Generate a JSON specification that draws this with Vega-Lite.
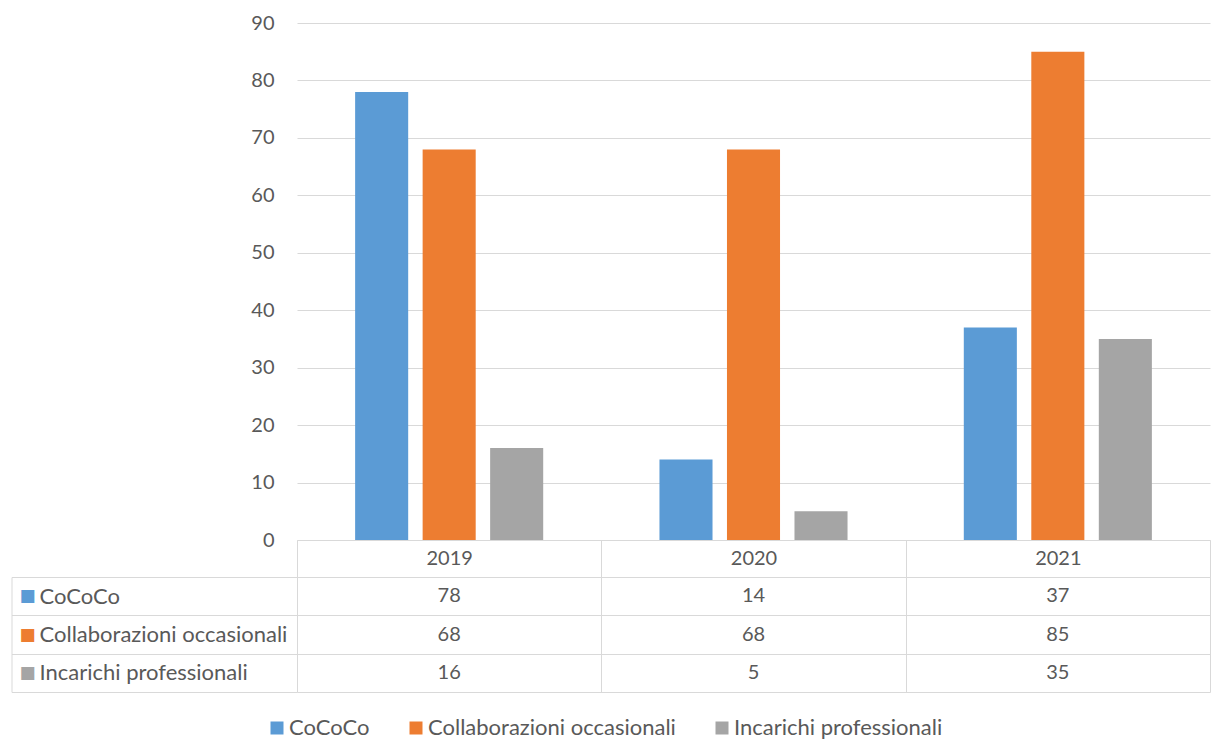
{
  "$schema": "https://vega.github.io/schema/vega-lite/v6.json",
  "padding": {"left": 11, "top": 13, "right": 0, "bottom": 0},
  "background": "white",
  "config": {
    "font": "Lato",
    "view": {"stroke": null},
    "axis": {"labelColor": "#595959", "labelFontSize": 20, "labelFont": "Lato", "gridColor": "#d9d9d9", "domainColor": "#d9d9d9", "tickColor": "#d9d9d9"}
  },
  "datasets": {
    "d": [
      {"year": "2019", "series": "CoCoCo", "value": 78},
      {"year": "2019", "series": "Collaborazioni occasionali", "value": 68},
      {"year": "2019", "series": "Incarichi professionali", "value": 16},
      {"year": "2020", "series": "CoCoCo", "value": 14},
      {"year": "2020", "series": "Collaborazioni occasionali", "value": 68},
      {"year": "2020", "series": "Incarichi professionali", "value": 5},
      {"year": "2021", "series": "CoCoCo", "value": 37},
      {"year": "2021", "series": "Collaborazioni occasionali", "value": 85},
      {"year": "2021", "series": "Incarichi professionali", "value": 35}
    ]
  },
  "resolve": {"scale": {"x": "independent", "y": "independent"}},
  "bounds": "flush",
  "spacing": 37,
  "vconcat": [
    {
      "width": 913,
      "height": 517,
      "data": {"name": "d"},
      "mark": {"type": "bar"},
      "encoding": {
        "x": {"field": "year", "type": "nominal", "scale": {"paddingInner": 0.382, "paddingOuter": 0.191},
              "axis": {"title": null, "labels": false, "ticks": false, "domain": true, "domainColor": "#d9d9d9", "grid": false}},
        "xOffset": {"field": "series", "type": "nominal", "sort": ["CoCoCo", "Collaborazioni occasionali", "Incarichi professionali"],
                    "scale": {"paddingInner": 0.214, "paddingOuter": 0}},
        "y": {"field": "value", "type": "quantitative", "scale": {"domain": [0, 90], "nice": false},
              "axis": {"title": null, "values": [0, 10, 20, 30, 40, 50, 60, 70, 80, 90], "domain": false, "ticks": false, "labelPadding": 23, "grid": true, "gridColor": "#d9d9d9", "minExtent": 286}},
        "color": {"field": "series", "type": "nominal",
                  "scale": {"domain": ["CoCoCo", "Collaborazioni occasionali", "Incarichi professionali"], "range": ["#5b9bd5", "#ed7d31", "#a5a5a5"]},
                  "legend": {"orient": "none", "legendX": -31, "legendY": 694, "direction": "horizontal", "title": null, "symbolType": "square", "symbolSize": 169, "symbolStrokeWidth": 0,
                             "labelFontSize": 22, "labelColor": "#595959", "labelFont": "Lato", "columnPadding": 35, "labelOffset": 1, "labelLimit": 400}}
      }
    },
    {
      "width": 913,
      "height": 115,
      "data": {"name": "d"},
      "encoding": {
        "x": {"field": "year", "type": "nominal", "scale": {"paddingInner": 0, "paddingOuter": 0},
              "axis": {"orient": "top", "title": null, "tickBand": "extent", "ticks": true, "tickSize": 37, "domain": true, "grid": true,
                       "labelPadding": -18.5, "labelBaseline": "middle", "labelAngle": 0}}
      },
      "layer": [
        {
          "mark": {"type": "text", "fontSize": 20, "color": "#595959", "font": "Lato"},
          "encoding": {
            "text": {"field": "value", "type": "quantitative"},
            "y": {"field": "series", "type": "nominal", "sort": ["CoCoCo", "Collaborazioni occasionali", "Incarichi professionali"],
                  "scale": {"paddingInner": 0, "paddingOuter": 0},
                  "axis": {"orient": "left", "title": null, "tickBand": "extent", "ticks": true, "tickSize": 285.5, "domain": false, "grid": true,
                           "labelAlign": "left", "labelBaseline": "middle", "labelPadding": -27.5, "labelLimit": 400, "labelFontSize": 22}}
          }
        },
        {
          "mark": {"type": "text", "opacity": 0},
          "encoding": {
            "text": {"field": "value", "type": "quantitative"},
            "y": {"field": "series", "type": "nominal", "sort": ["CoCoCo", "Collaborazioni occasionali", "Incarichi professionali"],
                  "axis": {"orient": "left", "offset": 285.5, "title": null, "ticks": false, "domain": true, "grid": false,
                           "labelExpr": "'■'", "labelAlign": "left", "labelBaseline": "middle", "labelPadding": -7.5,
                           "labelFont": "DejaVu Sans", "labelFontSize": 17,
                           "labelColor": {"condition": [{"test": "datum.value === 'CoCoCo'", "value": "#5b9bd5"}, {"test": "datum.value === 'Collaborazioni occasionali'", "value": "#ed7d31"}], "value": "#a5a5a5"}}}
          }
        }
      ],
      "resolve": {"axis": {"y": "independent"}}
    }
  ]
}
